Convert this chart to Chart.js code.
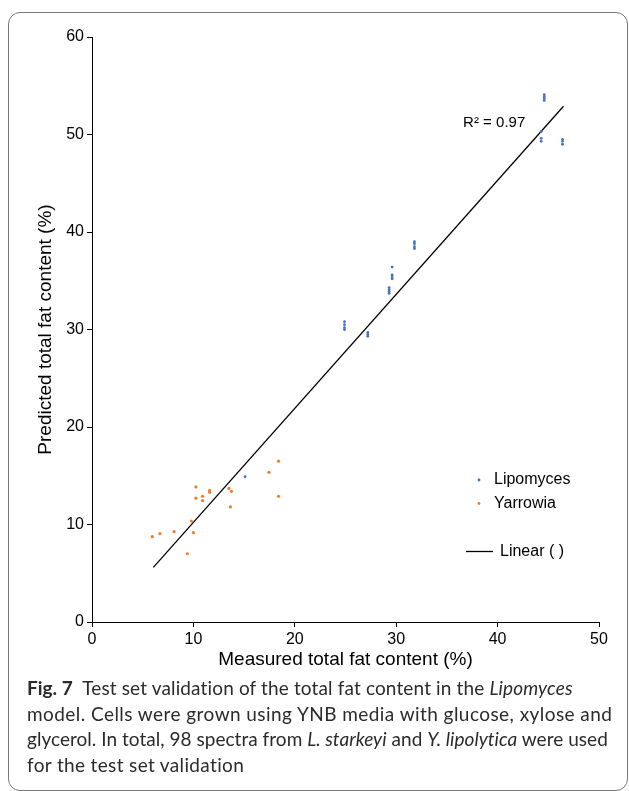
<!DOCTYPE html>
<html lang="en">
<head>
<meta charset="UTF-8" />
<title>Test set validation</title>
<script src="https://cdn.jsdelivr.net/npm/chart.js@4.4.1/dist/chart.umd.min.js"></script>
<style>
  body { margin: 0; background: #fff; width: 629px; height: 791px; overflow: hidden; position: relative; }
  .frame { position: absolute; left: 8px; top: 12px; width: 618px; height: 777px; border: 1px solid #777; border-radius: 12px; }
  #chart { position: absolute; left: 0; top: 0; }
  .caption { position: absolute; left: 27px; top: 675px; font: 19px Lato, sans-serif; line-height: 25.7px; color: #2b2b2b; white-space: nowrap; }
  .caption div { height: 25.7px; }
  .caption b { font-weight: 700; letter-spacing: 0; }
</style>
</head>
<body>
<div class="frame"></div>
<canvas id="chart" width="629" height="680"></canvas>
<div class="caption">
  <div style="letter-spacing: 0.14px"><b>Fig. 7</b>&nbsp; Test set validation of the total fat content in the <i>Lipomyces</i></div>
  <div style="letter-spacing: 0.44px">model. Cells were grown using YNB media with glucose, xylose and</div>
  <div style="letter-spacing: 0.03px">glycerol. In total, 98 spectra from <i>L. starkeyi</i> and <i>Y. lipolytica</i> were used</div>
  <div style="letter-spacing: 0.35px">for the test set validation</div>
</div>
<script>
  // Lipomyces (blue)
  const lipoX = [44.6, 44.6, 44.6, 44.6, 44.3, 44.3, 44.3, 46.4, 46.4, 46.4,
                 31.8, 31.8, 31.8, 31.8, 29.6, 29.6, 29.6, 29.6, 29.3, 29.3, 29.3, 29.3,
                 24.9, 24.9, 24.9, 24.9, 27.2, 27.2, 27.2, 15.1];
  const lipoY = [54.1, 53.9, 53.7, 53.5, 50.3, 49.6, 49.3, 49.5, 49.3, 49.0,
                 39.0, 38.8, 38.5, 38.3, 36.4, 35.6, 35.4, 35.2, 34.3, 34.1, 33.9, 33.7,
                 30.8, 30.5, 30.2, 30.0, 29.7, 29.5, 29.3, 14.9];

  // Yarrowia (orange)
  const yarrowX = [5.95, 6.7, 8.1, 9.4, 9.8, 10.0, 10.25, 10.25, 10.9, 10.9,
                   11.6, 11.6, 13.5, 13.75, 13.65, 17.45, 18.4, 18.4];
  const yarrowY = [8.75, 9.06, 9.26, 7.0, 10.36, 9.16, 13.85, 12.7, 12.9, 12.45,
                   13.5, 13.3, 13.7, 13.4, 11.8, 15.35, 16.5, 12.9];

  // linear fit
  const fitX = [6.05, 46.5];
  const fitY = [5.6, 52.9];

  const seriesNames = ["Lipomyces", "Yarrowia", "Linear ( )"];
  const r2Label = "R\u00b2 = 0.97";

  const pts = (xs, ys) => xs.map((v, i) => ({ x: v, y: ys[i] }));
  const axisFont = { family: "'Liberation Sans', Arial, sans-serif", size: 16 };
  const titleFont = { family: "'Liberation Sans', Arial, sans-serif", size: 19 };

  const notes = {
    id: "notes",
    afterDraw(chart) {
      const { ctx, scales: { x, y } } = chart;
      const ds = chart.data.datasets;
      ctx.save();
      ctx.fillStyle = "#000";
      ctx.textBaseline = "middle";
      ctx.font = "15px 'Liberation Sans', Arial, sans-serif";
      ctx.fillText(r2Label, x.getPixelForValue(36.6), y.getPixelForValue(51.2));

      // legend
      ctx.font = "16px 'Liberation Sans', Arial, sans-serif";
      [[480, 0], [503.5, 1]].forEach(([ly, i]) => {
        ctx.fillStyle = ds[i].backgroundColor;
        ctx.beginPath();
        ctx.arc(479, ly, 1.4, 0, Math.PI * 2);
        ctx.fill();
        ctx.fillStyle = "#000";
        ctx.fillText(seriesNames[i], 494, ly);
      });
      ctx.strokeStyle = "#000";
      ctx.lineWidth = 1.3;
      ctx.beginPath();
      ctx.moveTo(466, 551.5);
      ctx.lineTo(493, 551.5);
      ctx.stroke();
      ctx.fillText(seriesNames[2], 500, 551.5);
      ctx.restore();
    }
  };

  new Chart(document.getElementById("chart"), {
    type: "scatter",
    data: {
      datasets: [
        {
          label: seriesNames[0],
          data: pts(lipoX, lipoY),
          backgroundColor: "#4472C4",
          borderWidth: 0,
          pointRadius: 1.4,
        },
        {
          label: seriesNames[1],
          data: pts(yarrowX, yarrowY),
          backgroundColor: "#ED7D31",
          borderWidth: 0,
          pointRadius: 1.6,
        },
        {
          label: seriesNames[2],
          data: pts(fitX, fitY),
          showLine: true,
          borderColor: "#000",
          borderWidth: 1.3,
          pointRadius: 0,
        },
      ],
    },
    options: {
      responsive: false,
      animation: false,
      devicePixelRatio: 1,
      layout: { padding: { top: 37, right: 30, left: 30, bottom: 5 } },
      plugins: { legend: { display: false }, tooltip: { enabled: false } },
      scales: {
        x: {
          type: "linear",
          min: 0,
          max: 50,
          ticks: { stepSize: 10, color: "#000", font: axisFont, padding: 3, maxRotation: 0 },
          grid: { drawOnChartArea: false, tickLength: 5, color: "#000" },
          border: { color: "#000", width: 1 },
          title: { display: true, text: "Measured total fat content (%)", color: "#000", font: titleFont },
          afterFit: (s) => { s.height = 53; },
        },
        y: {
          type: "linear",
          min: 0,
          max: 60,
          ticks: { stepSize: 10, color: "#000", font: axisFont, padding: 3 },
          grid: { drawOnChartArea: false, tickLength: 5, color: "#000" },
          border: { color: "#000", width: 1 },
          title: { display: true, text: "Predicted total fat content (%)", color: "#000", font: titleFont },
          afterFit: (s) => { s.width = 62; },
        },
      },
    },
    plugins: [notes],
  });
</script>
</body>
</html>
